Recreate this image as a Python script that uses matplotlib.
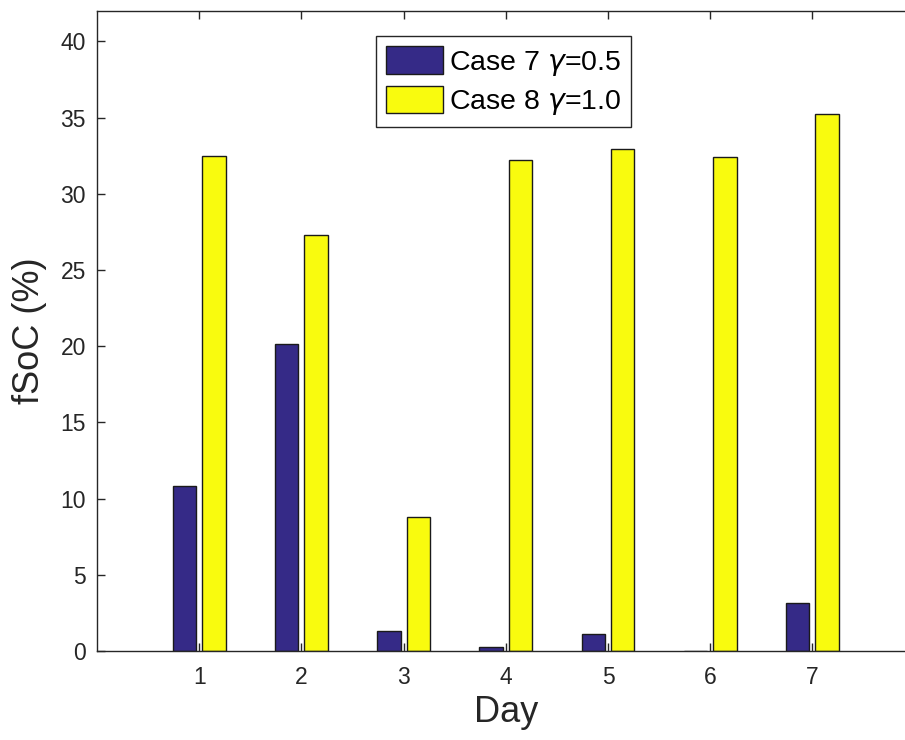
import numpy as np
import matplotlib
matplotlib.use('Agg')
import matplotlib.pyplot as plt

plt.rcParams['font.family'] = ['Liberation Sans', 'DejaVu Sans']
plt.rcParams['mathtext.fontset'] = 'dejavusans'

# data
days = [1, 2, 3, 4, 5, 6, 7]
case7 = [10.8, 20.15, 1.33, 0.26, 1.1, 0.03, 3.17]
case8 = [32.47, 27.3, 8.8, 32.25, 32.95, 32.4, 35.26]
labels = [r'Case 7 $\gamma$=0.5', r'Case 8 $\gamma$=1.0']

c_blue = '#352a87'
c_yellow = '#f9fb0e'
dark = '#262626'

fig = plt.figure(figsize=(9.05, 7.4), dpi=100)
ax = fig.add_axes([0.1072, 0.1203, 0.9034, 0.8649])

x = np.array(days)
w = 0.229
ax.bar(x - 0.143, case7, width=w, color=c_blue, edgecolor='#1a1a1a', linewidth=1.0, label=labels[0])
ax.bar(x + 0.143, case8, width=w, color=c_yellow, edgecolor='#1a1a1a', linewidth=1.0, label=labels[1])

ax.set_xlim(0, 8)
ax.set_ylim(0, 42)
ax.set_xticks(days)
ax.set_yticks(range(0, 45, 5))
for s in ax.spines.values():
    s.set_color(dark)
    s.set_linewidth(1.0)
ax.tick_params(direction='in', length=6, width=1.0, colors=dark, labelsize=16.5,
               top=True, right=True)
ax.tick_params(axis='x', pad=11)
ax.tick_params(axis='y', pad=8)

ax.set_xlabel('Day', fontsize=26, color=dark, labelpad=4)
ax.set_ylabel('fSoC (%)', fontsize=26, color=dark, labelpad=10)

leg = ax.legend(loc='upper left', bbox_to_anchor=(0.4155, 0.951), bbox_transform=fig.transFigure,
                borderaxespad=0, fontsize=20.5, fancybox=False, framealpha=1,
                handlelength=2.0, handleheight=1.1, handletextpad=0.2,
                labelspacing=0.3, borderpad=0.35)
leg.get_frame().set_edgecolor(dark)
leg.get_frame().set_linewidth(1.0)

fig.savefig('out.png', dpi=100)
